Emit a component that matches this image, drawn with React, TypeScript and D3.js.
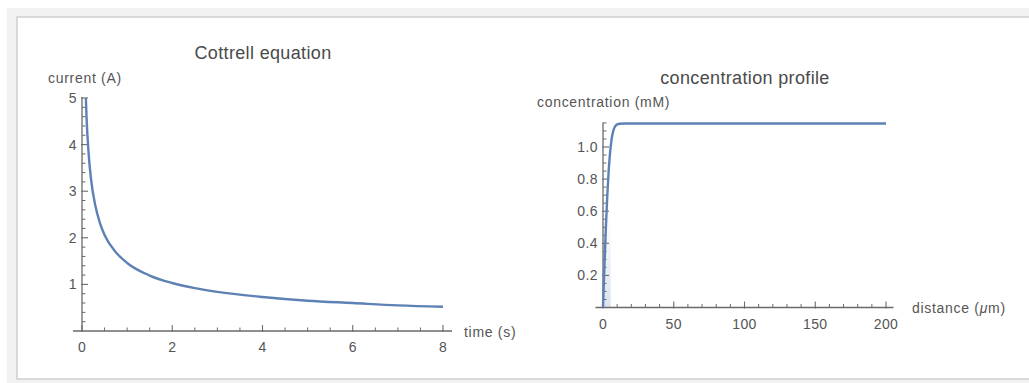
import React from 'react';
import * as d3 from 'd3';

// ---- data ----
const timeS = [0.085, 0.1, 0.15, 0.2, 0.3, 0.4, 0.5, 0.75, 1, 1.5, 2, 2.5, 3, 4, 5, 6, 7, 8];
const currentA = [5.0, 4.6, 3.77, 3.26, 2.67, 2.31, 2.06, 1.69, 1.46, 1.19, 1.03, 0.92, 0.84, 0.73, 0.65, 0.6, 0.55, 0.52];

const distanceUm = [0, 1, 2, 3, 4, 5, 6, 7, 8, 9, 10, 12, 15, 20, 200];
const concentrationMM = [0, 0.255, 0.49, 0.69, 0.85, 0.965, 1.043, 1.091, 1.119, 1.133, 1.141, 1.145, 1.146, 1.146, 1.146];

const leftXTicks = [0, 2, 4, 6, 8];
const leftYTicks = [1, 2, 3, 4, 5];
const rightXTicks = [0, 50, 100, 150, 200];
const rightYTicks = [0.2, 0.4, 0.6, 0.8, 1.0];
const rightYLabels = ['0.2', '0.4', '0.6', '0.8', '1.0'];

const titles = ['Cottrell equation', 'concentration profile'];
const xLabels = ['time (s)', 'distance (\u03bcm)'];
const yLabels = ['current (A)', 'concentration (mM)'];

const LINE = '#5e81b5';
const AXIS = '#6a6a6a';
const TEXT = '#555555';
const FONT = '"Liberation Sans", Arial, Helvetica, sans-serif';

function Axes({ x, y, xTicks, xMinor, yTicks, yMinor, yLabelsTxt, xDom, yTop, xExt }: any) {
  const x0 = x(0);
  const y0 = y(0);
  return (
    <g>
      <line x1={x0 - xExt} x2={x(xDom) + xExt} y1={y0} y2={y0} stroke={AXIS} strokeWidth={1.3} />
      <line x1={x0} x2={x0} y1={y0} y2={y(yTop)} stroke={AXIS} strokeWidth={1.3} />
      {xMinor.map((v: number, i: number) => (
        <line key={'xm' + i} x1={x(v)} x2={x(v)} y1={y0} y2={y0 - 3.5} stroke={AXIS} strokeWidth={1} />
      ))}
      {xTicks.map((v: number, i: number) => (
        <g key={'xt' + i}>
          <line x1={x(v)} x2={x(v)} y1={y0 + 1} y2={y0 - 6} stroke={AXIS} strokeWidth={1.1} />
          <text x={x(v)} y={y0 + 16} textAnchor="middle" dominantBaseline="central" fontSize={14} letterSpacing={0.4} fill={TEXT} fontFamily={FONT}>{String(v)}</text>
        </g>
      ))}
      {yMinor.map((v: number, i: number) => (
        <line key={'ym' + i} x1={x0} x2={x0 + 3.5} y1={y(v)} y2={y(v)} stroke={AXIS} strokeWidth={1} />
      ))}
      {yTicks.map((v: number, i: number) => (
        <g key={'yt' + i}>
          <line x1={x0 - 1} x2={x0 + 6} y1={y(v)} y2={y(v)} stroke={AXIS} strokeWidth={1.1} />
          <text x={x0 - 5} y={y(v)} textAnchor="end" dominantBaseline="central" fontSize={14} letterSpacing={0.4} fill={TEXT} fontFamily={FONT}>{yLabelsTxt[i]}</text>
        </g>
      ))}
    </g>
  );
}

export default function App() {
  const W = 1029, H = 383;

  const lx = d3.scaleLinear().domain([0, 8]).range([82, 443]);
  const ly = d3.scaleLinear().domain([0, 5]).range([331, 98]);
  const rx = d3.scaleLinear().domain([0, 200]).range([603, 886]);
  const ry = d3.scaleLinear().domain([0, 1]).range([307.5, 147]);

  const leftPts = timeS.map((t, i) => [t, currentA[i]] as [number, number]);
  const rightPts = distanceUm.map((d, i) => [d, concentrationMM[i]] as [number, number]);

  const leftLine = d3.line<[number, number]>().x(d => lx(d[0])).y(d => ly(d[1])).curve(d3.curveMonotoneX);
  const rightLine = d3.line<[number, number]>().x(d => rx(d[0])).y(d => ry(d[1])).curve(d3.curveMonotoneX);

  const leftXMinor = d3.range(0, 8.001, 0.5).filter(v => Math.abs(v % 2) > 1e-6);
  const leftYMinor = d3.range(0.2, 5.001, 0.2).filter(v => Math.abs(v - Math.round(v)) > 1e-6);
  const rightXMinor = d3.range(10, 200.001, 10).filter(v => v % 50 !== 0);
  const rightYMinor = d3.range(0.05, 1.151, 0.05).filter(v => Math.abs(v * 5 - Math.round(v * 5)) > 1e-6);

  return (
    <svg width={W} height={H} style={{ position: 'absolute', left: 0, top: 0, background: '#fff' }}>
      <defs>
        <linearGradient id="shade" x1="0" y1="1" x2="0" y2="0">
          <stop offset="0" stopColor={LINE} stopOpacity={0.22} />
          <stop offset="1" stopColor={LINE} stopOpacity={0} />
        </linearGradient>
      </defs>
      <rect x={7} y={8} width={W} height={H} fill="#f2f2f2" />
      <rect x={17} y={17} width={W + 10} height={362} fill="#fff" stroke="#cfcfcf" strokeWidth={1.5} />

      {/* left chart */}
      <text x={263} y={53} textAnchor="middle" dominantBaseline="central" fontSize={18} letterSpacing={0.35} fill="#4a4a4a" fontFamily={FONT}>{titles[0]}</text>
      <text x={48} y={78} dominantBaseline="central" fontSize={14} letterSpacing={0.7} fill={TEXT} fontFamily={FONT}>{yLabels[0]}</text>
      <text x={464} y={332} dominantBaseline="central" fontSize={14} letterSpacing={0.7} fill={TEXT} fontFamily={FONT}>{xLabels[0]}</text>
      <Axes x={lx} y={ly} xTicks={leftXTicks} xMinor={leftXMinor} yTicks={leftYTicks} yMinor={leftYMinor}
        yLabelsTxt={leftYTicks.map(String)} xDom={8} yTop={5.02} xExt={9} />
      <path d={leftLine(leftPts) || ''} fill="none" stroke={LINE} strokeWidth={2.4} strokeLinejoin="round" />

      {/* right chart */}
      <text x={745} y={78} textAnchor="middle" dominantBaseline="central" fontSize={18} letterSpacing={0.35} fill="#4a4a4a" fontFamily={FONT}>{titles[1]}</text>
      <text x={537} y={102} dominantBaseline="central" fontSize={14} letterSpacing={0.7} fill={TEXT} fontFamily={FONT}>{yLabels[1]}</text>
      <text x={912} y={308} dominantBaseline="central" fontSize={14} letterSpacing={0.7} fill={TEXT} fontFamily={FONT}>
        {'distance ('}<tspan fontStyle="italic">{'\u03bc'}</tspan>{'m)'}
      </text>
      <rect x={rx(0)} y={ry(0.6)} width={rx(5.5) - rx(0)} height={ry(0) - ry(0.6)} fill="url(#shade)" />
      <Axes x={rx} y={ry} xTicks={rightXTicks} xMinor={rightXMinor} yTicks={rightYTicks} yMinor={rightYMinor}
        yLabelsTxt={rightYLabels} xDom={200} yTop={1.153} xExt={7.5} />
      <path d={rightLine(rightPts) || ''} fill="none" stroke={LINE} strokeWidth={2.4} strokeLinejoin="round" />
    </svg>
  );
}
